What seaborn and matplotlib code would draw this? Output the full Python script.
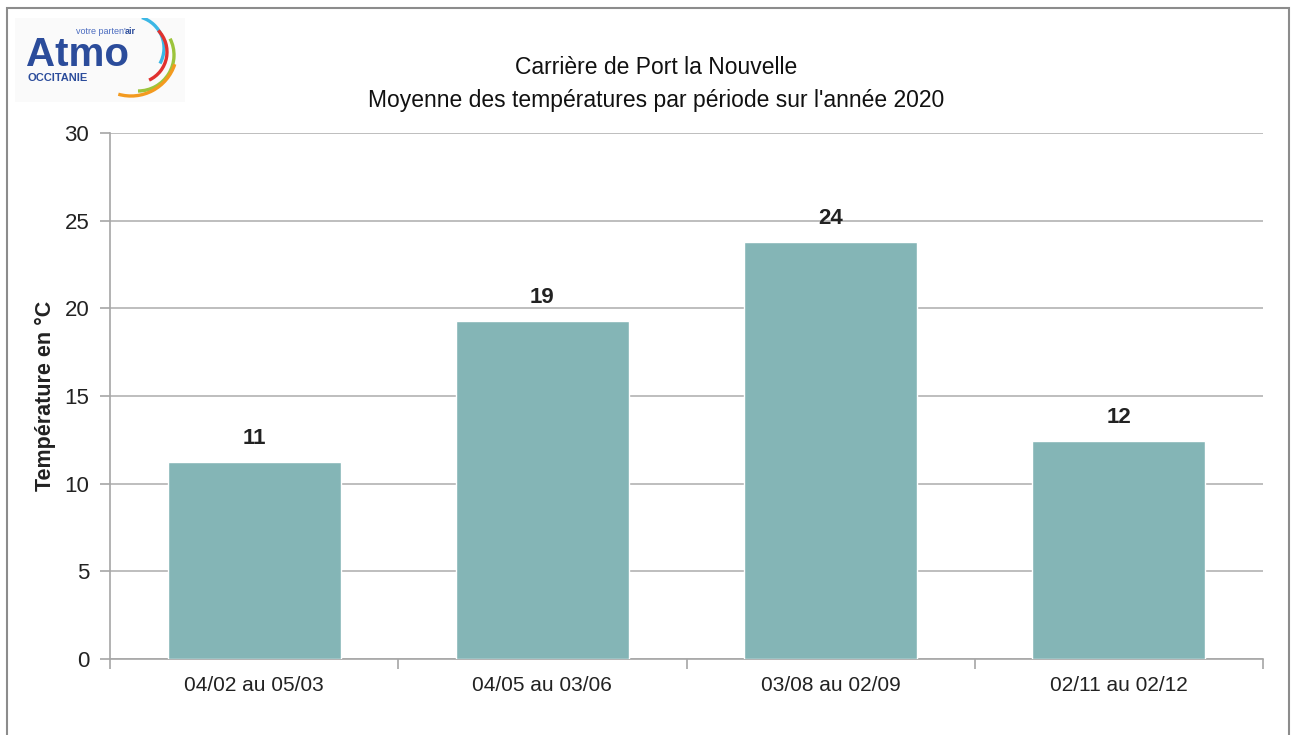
import numpy as np
import pandas as pd
import matplotlib
matplotlib.use("Agg")
import matplotlib.pyplot as plt
import seaborn as sns
from matplotlib.patches import Arc, Rectangle

periods = ["04/02 au 05/03", "04/05 au 03/06", "03/08 au 02/09", "02/11 au 02/12"]
temperatures = [11.25, 19.3, 23.8, 12.45]
labels = ["11", "19", "24", "12"]
yticks = [0, 5, 10, 15, 20, 25, 30]

df = pd.DataFrame({"Période": periods, "Température": temperatures})

sns.set_theme(style="white")
plt.rcParams["font.family"] = ["Liberation Sans", "DejaVu Sans"]

W, H = 1291, 735
fig = plt.figure(figsize=(W / 100, H / 100), dpi=100)
ax = fig.add_axes([110 / W, 1 - 659 / H, (1263 - 110) / W, (659 - 133) / H])

sns.barplot(data=df, x="Période", y="Température", color="#84b5b6", width=0.6,
            saturation=1, ax=ax, zorder=3)

ax.set_ylim(0, 30)
ax.set_xlim(-0.5, len(periods) - 0.5)
ax.set_yticks(yticks)
ax.yaxis.grid(True, color="#b3b3b3", linewidth=1.2, zorder=0)
ax.set_axisbelow(True)
for s in ["top", "right"]:
    ax.spines[s].set_visible(False)
for s in ["left", "bottom"]:
    ax.spines[s].set_color("#a6a6a6")
    ax.spines[s].set_linewidth(1.2)

ax.set_xticks(np.arange(len(periods)))
ax.set_xticklabels(periods, fontsize=15, color="#222222")
ax.set_xticks(np.arange(len(periods) + 1) - 0.5, minor=True)
ax.tick_params(axis="x", which="major", length=0, pad=12)
ax.tick_params(axis="x", which="minor", length=7, color="#a6a6a6", width=1.2, direction="out", bottom=True)
ax.tick_params(axis="y", length=7, color="#a6a6a6", width=1.2, direction="out", left=True,
               labelsize=16, labelcolor="#222222", pad=8)

ax.set_xlabel("")
ax.set_ylabel("Température en °C", fontsize=15.5, fontweight="bold", color="#222222", labelpad=6)

for i, (v, lab) in enumerate(zip(temperatures, labels)):
    ax.text(i, v + 0.7, lab, ha="center", va="bottom", fontsize=16, fontweight="bold", color="#222222")

fig.text(656 / W, 1 - 67 / H, "Carrière de Port la Nouvelle", ha="center", va="center",
         fontsize=16.5, color="#111111")
fig.text(656 / W, 1 - 100 / H, "Moyenne des températures par période sur l'année 2020", ha="center",
         va="center", fontsize=16.5, color="#111111")

# frame around the figure
fig.patches.append(Rectangle((7 / W, -0.01), 1 - 7 / W - 0.0015, 1 - 8 / H + 0.01, transform=fig.transFigure,
                             fill=False, edgecolor="#8c8c8c", linewidth=1.5))

# logo, drawn in pixel coordinates (y flipped)
lax = fig.add_axes([15 / W, 1 - 102 / H, 170 / W, 84 / H])
lax.set_xlim(15, 185)
lax.set_ylim(H - 102, H - 18)
lax.axis("off")
lax.add_patch(Rectangle((15, H - 102), 170, 84, color="#fafafa", zorder=0))
lax.text(26, H - 66, "Atmo", fontsize=29, fontweight="bold", color="#2b4c9b",
         va="baseline", ha="left")
lax.text(76, H - 31, "votre parten'", fontsize=6.5, color="#4b6cc0", ha="left", va="center")
lax.text(125, H - 31, "air", fontsize=6.5, color="#2b4c9b", fontweight="bold", ha="left", va="center")
lax.text(27, H - 78, "OCCITANIE", fontsize=8, fontweight="bold", color="#2b4c9b", ha="left", va="center")
arcs = [((132, H - 48), 32, -29, 72, "#3bb7e5"),
        ((136, H - 52), 31, -65, 44, "#e0312f"),
        ((138, H - 55), 36, -90, 27, "#9cc43b"),
        ((131, H - 50), 46, -106, -18, "#f39a1f")]
for c, r, t1, t2, col in arcs:
    lax.add_patch(Arc(c, 2 * r, 2 * r, theta1=t1, theta2=t2, color=col, linewidth=2.4))

fig.savefig("out.png", dpi=100, facecolor="white")
